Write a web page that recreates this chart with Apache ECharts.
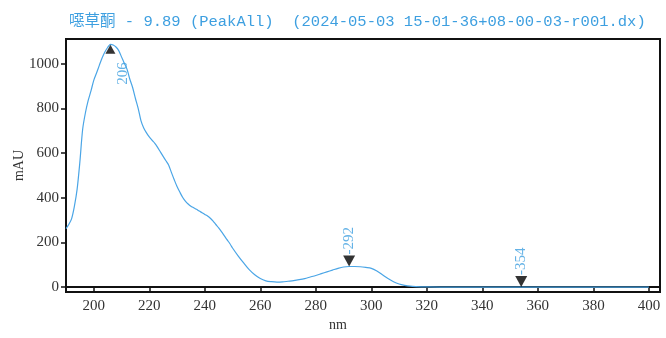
<!DOCTYPE html>
<html>
<head>
<meta charset="utf-8">
<script src="https://cdn.jsdelivr.net/npm/echarts@6/dist/echarts.min.js"></script>
<style>html,body{margin:0;padding:0;background:#fff}#c{width:666px;height:338px}</style>
</head>
<body>
<div id="c"></div>
<script>
// ---- data ----
const titleText = '噁草酮 - 9.89 (PeakAll)  (2024-05-03 15-01-36+08-00-03-r001.dx)';
const wavelengths = [190,191,192,193,194,195,196,197,198,199,200,201,202,203,204,205,206,207,208,209,210,211,212,213,214,215,216,217,218,219,220,221,222,223,224,225,226,227,228,229,230,231,232,233,234,235,236,237,238,239,240,241,242,243,244,245,246,247,248,249,250,252,254,256,258,260,262,264,266,268,270,272,274,276,278,280,282,284,286,288,290,292,294,296,298,300,302,304,306,308,310,312,314,316,318,320,330,340,350,360,370,380,390,400];
const absorbance = [262,280,305,360,437,560,706,780,835,878,925,958,992,1025,1052,1072,1086,1083,1074,1058,1030,1002,974,930,893,845,800,745,712,690,672,657,643,625,605,585,565,545,512,480,450,425,402,385,372,362,355,348,340,333,325,318,308,295,280,265,248,230,212,195,175,140,108,78,55,38,28,24,22,23,26,29,33,38,45,52,60,68,76,84,90,92,92,91,88,84,72,55,38,24,14,8,4,2,1,0.5,0,0,0,0,0,0,0,0];
const peakUp = [[206,1086]];
const peaksDown = [[292,92],[354,0]];
const xTicks = [200,220,240,260,280,300,320,340,360,380,400];
const yTicks = [0,200,400,600,800,1000];
const xName = 'nm';
const yName = 'mAU';

const blue = '#4aa5e6';
const txtBlue = '#3d9fe0';
const font = '"Liberation Serif", "Noto Sans CJK SC", serif';

const chart = echarts.init(document.getElementById('c'), null, {renderer:'canvas'});
chart.setOption({
  animation:false,
  backgroundColor:'#fff',
  title:{text:titleText,left:64,top:9,textStyle:{fontSize:15.5,fontWeight:'normal',color:txtBlue,fontFamily:'"Liberation Mono", "Noto Sans CJK SC", monospace'}},
  grid:{left:66,right:6,top:39,bottom:46,containLabel:false,outerBoundsMode:'none',show:true,borderColor:'#111',borderWidth:2,backgroundColor:'#fff'},
  xAxis:{type:'value',min:190,max:404,
    axisLine:{lineStyle:{color:'#111',width:2}},
    axisTick:{show:true,customValues:xTicks,length:5,lineStyle:{color:'#111',width:1.5}},
    axisLabel:{customValues:xTicks,formatter:v=>String(v),color:'#333',fontSize:15,fontFamily:font,margin:7},
    splitLine:{show:false}},
  yAxis:{type:'value',min:-22,max:1110,name:yName,nameLocation:'middle',nameRotate:90,nameGap:40,nameMoveOverlap:false,
    nameTextStyle:{fontSize:14,color:'#333',fontFamily:font},
    axisLine:{show:true,lineStyle:{color:'#111',width:2}},
    axisTick:{show:true,customValues:yTicks,length:5,lineStyle:{color:'#111',width:1.5}},
    axisLabel:{customValues:yTicks,formatter:v=>String(v),color:'#333',fontSize:15,fontFamily:font,margin:7},
    splitLine:{show:false}},
  graphic:[{type:'text',left:329,top:318,style:{text:xName,fontSize:14,fill:'#333',fontFamily:font}}],
  series:[
    {type:'line',data:wavelengths.map((w,i)=>[w,absorbance[i]]),smooth:0.3,showSymbol:false,
     lineStyle:{color:blue,width:1.2},z:3},
    {type:'scatter',data:peakUp,symbol:'triangle',symbolSize:[10,9],symbolOffset:[0,5],
     itemStyle:{color:'#000'},z:5,
     label:{show:true,formatter:p=>String(p.value[0]),rotate:90,position:[18,40],align:'left',verticalAlign:'middle',
       color:txtBlue,fontSize:15,fontFamily:font}},
    {type:'scatter',data:peaksDown,symbol:'triangle',symbolRotate:180,symbolSize:[12,11],symbolOffset:[0,-5.5],
     itemStyle:{color:'#000'},z:5,
     label:{show:true,formatter:p=>'-'+p.value[0],rotate:90,position:[6,-1],align:'left',verticalAlign:'middle',
       color:txtBlue,fontSize:15,fontFamily:font}}
  ]
});
</script>
</body>
</html>
